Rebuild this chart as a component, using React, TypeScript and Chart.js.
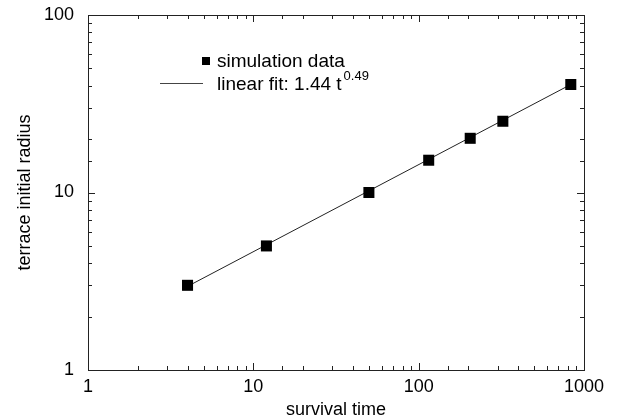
import React, { useEffect, useRef } from "react";
import { Chart, registerables } from "chart.js";

Chart.register(...registerables);

// Data
const survivalTime = [4, 12, 50, 115, 205, 323, 832];
const terraceRadius = [3.0, 5.0, 10.0, 15.2, 20.2, 25.2, 40.6];
const fitTime = [3.92, 832];
const fitRadius = [2.93, 40.6];
const xTickLabels = ["1", "10", "100", "1000"];
const yTickLabels = ["1", "10", "100"];
const legendLabels = ["simulation data", "linear fit: 1.44 t", "0.49"];

const FONT = '"Liberation Sans", Arial, Helvetica, sans-serif';

function isPow10(v: number) {
  const l = Math.log10(v);
  return Math.abs(l - Math.round(l)) < 1e-9;
}

const frameTicksPlugin = {
  id: "frameTicks",
  beforeDatasetsDraw(chart: any) {
    const { ctx, chartArea } = chart;
    const xs = chart.scales.x;
    const ys = chart.scales.y;
    ctx.save();
    ctx.strokeStyle = "#222";
    ctx.lineWidth = 1;
    ctx.strokeRect(
      Math.round(chartArea.left) + 0.5,
      Math.round(chartArea.top) + 0.5,
      Math.round(chartArea.right - chartArea.left),
      Math.round(chartArea.bottom - chartArea.top)
    );
    ctx.beginPath();
    xs.ticks.forEach((t: any) => {
      const px = Math.round(xs.getPixelForValue(t.value)) + 0.5;
      const len = isPow10(t.value) ? 7 : 4;
      ctx.moveTo(px, chartArea.bottom);
      ctx.lineTo(px, chartArea.bottom - len);
      ctx.moveTo(px, chartArea.top);
      ctx.lineTo(px, chartArea.top + len);
    });
    ys.ticks.forEach((t: any) => {
      const py = Math.round(ys.getPixelForValue(t.value)) + 0.5;
      const len = isPow10(t.value) ? 7 : 4;
      ctx.moveTo(chartArea.left, py);
      ctx.lineTo(chartArea.left + len, py);
      ctx.moveTo(chartArea.right, py);
      ctx.lineTo(chartArea.right - len, py);
    });
    ctx.stroke();
    ctx.restore();
  },
};

const legendPlugin = {
  id: "customLegend",
  afterDraw(chart: any) {
    const { ctx } = chart;
    ctx.save();
    ctx.fillStyle = "#000";
    // row 1
    ctx.fillRect(202, 57, 8, 8);
    ctx.font = `19px ${FONT}`;
    ctx.textBaseline = "alphabetic";
    ctx.textAlign = "left";
    ctx.fillText(legendLabels[0], 217, 67);
    // row 2
    ctx.strokeStyle = "#444";
    ctx.lineWidth = 1;
    ctx.beginPath();
    ctx.moveTo(160, 83.5);
    ctx.lineTo(203, 83.5);
    ctx.stroke();
    ctx.fillText(legendLabels[1], 217, 90);
    const w = ctx.measureText(legendLabels[1]).width;
    ctx.font = `13px ${FONT}`;
    ctx.fillText(legendLabels[2], 217 + w + 2, 80);
    ctx.restore();
  },
};

export default function App() {
  const ref = useRef<HTMLCanvasElement | null>(null);

  useEffect(() => {
    if (!ref.current) return;
    const chart = new Chart(ref.current, {
      type: "scatter",
      data: {
        datasets: [
          {
            label: "simulation data",
            data: survivalTime.map((x, i) => ({ x, y: terraceRadius[i] })),
            pointStyle: "rect",
            pointRadius: 7.8,
            pointBackgroundColor: "#000",
            pointBorderWidth: 0,
            showLine: false,
          },
          {
            label: "linear fit",
            data: fitTime.map((x, i) => ({ x, y: fitRadius[i] })),
            showLine: true,
            pointRadius: 0,
            borderColor: "#222",
            borderWidth: 1,
          },
        ],
      },
      options: {
        responsive: false,
        animation: false,
        devicePixelRatio: 1,
        layout: { padding: { left: 0, top: 15, right: 34, bottom: 0 } },
        plugins: {
          legend: { display: false },
          tooltip: { enabled: false },
        },
        scales: {
          x: {
            type: "logarithmic",
            min: 1,
            max: 1000,
            grid: { display: false, drawTicks: false },
            border: { display: false },
            afterFit: (s: any) => {
              s.height = 50;
              s.paddingLeft = 0;
              s.paddingRight = 0;
            },
            ticks: {
              autoSkip: false,
              maxRotation: 0,
              minRotation: 0,
              padding: 6,
              color: "#000",
              font: { family: FONT, size: 18 },
              callback: (v: any) => {
                const n = Number(v);
                if (!isPow10(n)) return "";
                return xTickLabels[Math.round(Math.log10(n))];
              },
            },
            title: {
              display: true,
              text: "survival time",
              color: "#000",
              font: { family: FONT, size: 18 },
              padding: { top: 0, bottom: -1 },
            },
          },
          y: {
            type: "logarithmic",
            min: 1,
            max: 100,
            grid: { display: false, drawTicks: false },
            border: { display: false },
            afterFit: (s: any) => {
              s.width = 88;
              s.paddingTop = 0;
              s.paddingBottom = 0;
            },
            ticks: {
              autoSkip: false,
              padding: 14,
              color: "#000",
              font: { family: FONT, size: 18 },
              callback: (v: any) => {
                const n = Number(v);
                if (!isPow10(n)) return "";
                return yTickLabels[Math.round(Math.log10(n))];
              },
            },
            title: {
              display: true,
              text: "terrace initial radius",
              color: "#000",
              font: { family: FONT, size: 18 },
              padding: { top: 14, bottom: 0 },
            },
          },
        },
      },
      plugins: [frameTicksPlugin, legendPlugin],
    } as any);
    return () => chart.destroy();
  }, []);

  return (
    <div style={{ position: "fixed", left: 0, top: 0, width: 618, height: 420, background: "#fff" }}>
      <canvas ref={ref} width={618} height={420} />
    </div>
  );
}
